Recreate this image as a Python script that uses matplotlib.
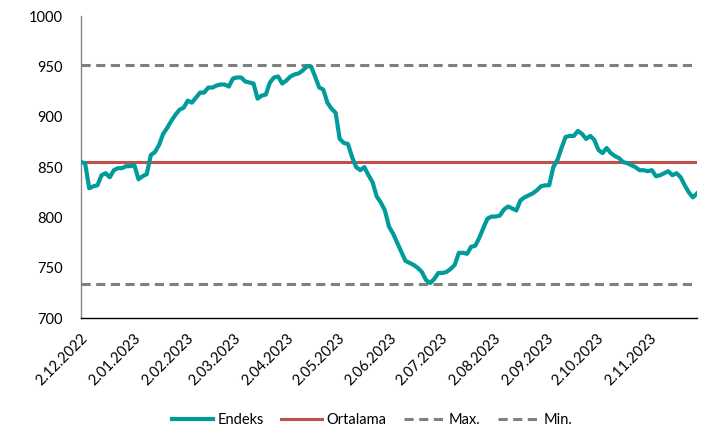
import pandas as pd
import matplotlib
matplotlib.use("Agg")
import matplotlib.pyplot as plt

plt.rcParams['font.family'] = ['Lato', 'DejaVu Sans']

# index values, evenly spaced from 2.12.2022 to 30.11.2023
endeks = [
    855, 854, 829, 831, 832, 842, 844, 840, 847, 849,
    849, 851, 851, 852, 838, 841, 843, 862, 865, 872,
    883, 889, 896, 902, 907, 909, 916, 914, 919, 924,
    924, 929, 929, 931, 932, 932, 930, 938, 939, 939,
    935, 934, 933, 918, 921, 922, 934, 939, 940, 933,
    936, 940, 942, 943, 946, 950, 950, 940, 929, 927,
    914, 908, 904, 878, 874, 873, 860, 850, 847, 850,
    842, 835, 821, 815, 807, 791, 784, 775, 766, 757,
    755, 753, 750, 746, 738, 735, 739, 745, 745, 746,
    749, 753, 765, 765, 764, 771, 772, 780, 790, 799,
    801, 801, 802, 808, 811, 809, 807, 817, 820, 822,
    824, 827, 831, 832, 832, 850, 857, 869, 880, 881,
    881, 886, 883, 878, 881, 877, 867, 864, 869, 864,
    861, 859, 855, 854, 852, 850, 847, 847, 846, 847,
    841, 842, 844, 846, 842, 844, 840, 832, 825, 820,
    824,
]
start_date = "2022-12-02"
end_date = "2023-11-30"
ortalama = 855
max_val = 951.5
min_val = 734.5

tick_dates = ["2022-12-02", "2023-01-02", "2023-02-02", "2023-03-02", "2023-04-02",
              "2023-05-02", "2023-06-02", "2023-07-02", "2023-08-02", "2023-09-02",
              "2023-10-02", "2023-11-02"]
tick_labels = ["2.12.2022", "2.01.2023", "2.02.2023", "2.03.2023", "2.04.2023",
               "2.05.2023", "2.06.2023", "2.07.2023", "2.08.2023", "2.09.2023",
               "2.10.2023", "2.11.2023"]

dates = pd.date_range(start_date, end_date, periods=len(endeks))

fig = plt.figure(figsize=(7.13, 4.29), dpi=100)
ax = fig.add_axes([0.1136, 0.258, 0.864, 0.7047])

ax.plot(dates, endeks, color='#009B9A', lw=3.0, label='Endeks', solid_joinstyle='round', zorder=4)
ax.plot([dates[0], dates[-1]], [ortalama, ortalama], color='#C0504D', lw=2.2, label='Ortalama', zorder=3)
ax.plot([dates[0], dates[-1]], [max_val, max_val], color='#808080', lw=2.2,
        dashes=(3.0, 1.8), label='Max.', zorder=2)
ax.plot([dates[0], dates[-1]], [min_val, min_val], color='#808080', lw=2.2,
        dashes=(3.0, 1.8), label='Min.', zorder=2)

ax.set_xlim(dates[0], dates[-1])
ax.set_ylim(700, 1000)
ax.set_yticks(range(700, 1001, 50))
ax.set_xticks(pd.to_datetime(tick_dates))
ax.set_xticklabels(tick_labels, rotation=45, ha='right', va='top', rotation_mode='anchor')

ax.tick_params(axis='both', length=0, labelsize=10.5, colors='#000000')
ax.tick_params(axis='y', pad=13)
ax.tick_params(axis='x', pad=9)
for side in ['top', 'right']:
    ax.spines[side].set_visible(False)
ax.spines['left'].set_color('#868686')
ax.spines['left'].set_linewidth(1.0)
ax.spines['bottom'].set_color('#000000')
ax.spines['bottom'].set_linewidth(1.0)

fig.legend(loc='center', bbox_to_anchor=(0.522, 0.021), ncol=4, frameon=False,
           fontsize=10.5, handlelength=2.8, handletextpad=0.3, columnspacing=1.2)

fig.savefig('out.png', dpi=100)
